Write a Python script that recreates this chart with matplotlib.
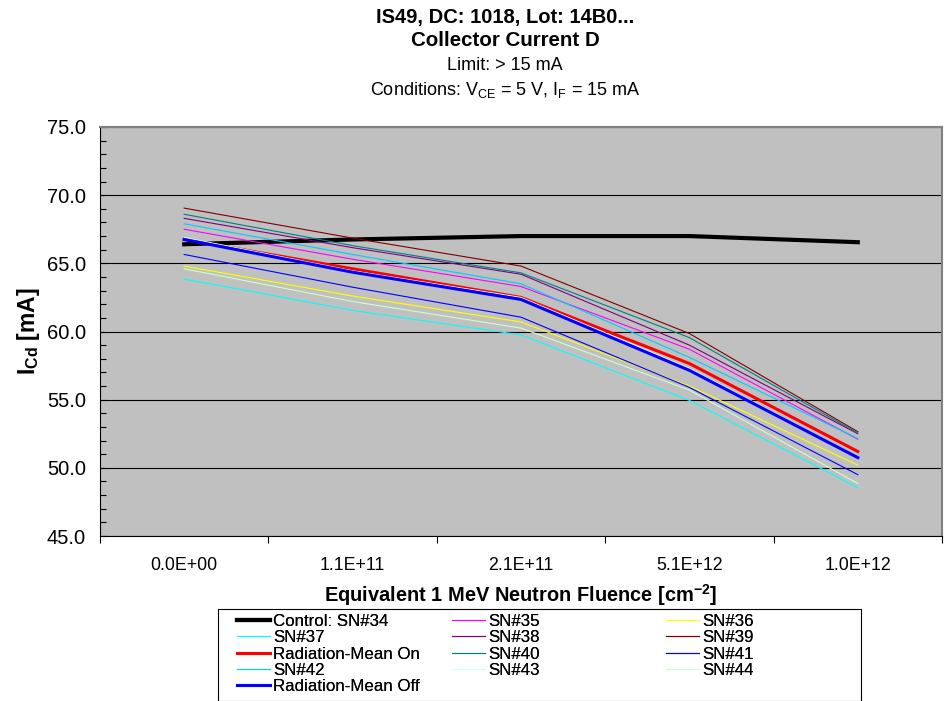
import matplotlib
matplotlib.use("Agg")
import matplotlib.pyplot as plt
from matplotlib.ticker import MultipleLocator, FormatStrFormatter, FixedLocator
from matplotlib.patches import Rectangle

plt.rcParams['font.family'] = ['Liberation Sans', 'DejaVu Sans']
plt.rcParams['mathtext.fontset'] = 'custom'
plt.rcParams['mathtext.rm'] = 'Liberation Sans'
plt.rcParams['mathtext.bf'] = 'Liberation Sans:bold'

# fluence categories
fluence = ['0.0E+00', '1.1E+11', '2.1E+11', '5.1E+12', '1.0E+12']

# collector current [mA] per device
control = [66.4, 66.75, 67.0, 67.0, 66.55]
sn35 = [67.5, 65.3, 63.3, 58.7, 52.1]
sn36 = [64.8, 62.6, 60.7, 56.0, 50.2]
sn37 = [63.85, 61.55, 59.75, 54.95, 48.55]
sn38 = [68.3, 66.15, 64.2, 59.0, 52.5]
sn39 = [69.05, 66.85, 64.8, 59.85, 52.65]
mean_on = [66.75, 64.6, 62.5, 57.65, 51.2]
sn40 = [68.6, 66.3, 64.3, 59.55, 52.55]
sn41 = [65.65, 63.25, 61.05, 55.9, 49.5]
sn42 = [67.9, 65.65, 63.5, 58.1, 52.15]
sn43 = [66.9, 64.45, 62.5, 57.3, 50.8]
sn44 = [64.6, 62.2, 60.25, 55.7, 48.85]
mean_off = [66.75, 64.35, 62.35, 57.15, 50.75]

W, H = 951, 701


def fx(px):
    return px / W


def fy(py):
    return 1 - py / H


def draw_chart():
    fig = plt.figure(figsize=(9.51, 7.01), dpi=100)
    ax = fig.add_axes([fx(100), fy(536), fx(942) - fx(100), fy(127) - fy(536)])
    ax.set_facecolor('#C0C0C0')

    series = [
        ('Control: SN#34', control, 'black', 3.0),
        ('SN#35', sn35, '#FF00FF', 0.8),
        ('SN#36', sn36, '#FFFF00', 0.8),
        ('SN#37', sn37, '#00FFFF', 0.8),
        ('SN#38', sn38, '#800080', 0.8),
        ('SN#39', sn39, '#800000', 0.8),
        ('Radiation-Mean On', mean_on, '#FF0000', 2.2),
        ('SN#40', sn40, '#008080', 0.8),
        ('SN#41', sn41, '#0000FF', 0.8),
        ('SN#42', sn42, '#00CCFF', 0.8),
        ('SN#43', sn43, '#CCFFFF', 0.8),
        ('SN#44', sn44, '#CCFFCC', 0.8),
        ('Radiation-Mean Off', mean_off, '#0000FF', 2.2),
    ]
    x = list(range(len(fluence)))
    handles = []
    for label, vals, color, lw in series:
        h, = ax.plot(x, vals, color=color, lw=lw, label=label)
        handles.append(h)

    ax.set_xlim(-0.5, len(fluence) - 0.5)
    ax.set_ylim(45, 75)
    ax.yaxis.set_major_locator(MultipleLocator(5))
    ax.yaxis.set_minor_locator(MultipleLocator(1))
    ax.yaxis.set_major_formatter(FormatStrFormatter('%.1f'))
    ax.grid(axis='y', which='major', color='black', lw=0.8)
    ax.tick_params(axis='y', which='both', direction='in', length=4, width=0.8,
                   labelsize=14.5, pad=10)

    # category boundaries get the ticks, centres get the labels
    ax.xaxis.set_major_locator(FixedLocator([i - 0.5 for i in range(len(fluence) + 1)]))
    ax.xaxis.set_major_formatter(plt.NullFormatter())
    ax.xaxis.set_minor_locator(FixedLocator(x))
    ax.set_xticklabels(fluence, minor=True)
    ax.tick_params(axis='x', which='major', direction='out', length=5, width=0.8)
    ax.tick_params(axis='x', which='minor', length=0, labelsize=12.8, pad=15)

    for s in ['left', 'bottom']:
        ax.spines[s].set_color('black')
    for s in ['top', 'right']:
        ax.spines[s].set_color('#808080')
        ax.spines[s].set_linewidth(1.5)

    # titles
    cx = fx(505)
    fig.text(cx, fy(17), 'IS49, DC: 1018, Lot: 14B0...', ha='center', va='center',
             fontsize=14.5, fontweight='bold')
    fig.text(cx, fy(41), 'Collector Current D', ha='center', va='center',
             fontsize=14.8, fontweight='bold')
    fig.text(cx, fy(66), 'Limit: > 15 mA', ha='center', va='center', fontsize=13)
    fig.text(cx, fy(90), r'Conditions: V$_{\mathrm{CE}}$ = 5 V, I$_{\mathrm{F}}$ = 15 mA',
             ha='center', va='center', fontsize=13)

    fig.text(fx(28), fy(331), r'I$_{\mathbf{Cd}}$ [mA]', rotation=90, ha='center',
             va='center', fontsize=16.5, fontweight='bold')
    fig.text(fx(521), fy(595), r'Equivalent 1 MeV Neutron Fluence [cm$^{\mathbf{-2}}$]',
             ha='center', va='center', fontsize=14.4, fontweight='bold')

    # legend box, three columns laid out like excel does it
    fig.patches.append(Rectangle((fx(218), 0), fx(861) - fx(218), fy(609),
                                 transform=fig.transFigure, facecolor='white',
                                 edgecolor='black', lw=0.8))
    cols = [[0, 3, 6, 9, 12], [1, 4, 7, 10], [2, 5, 8, 11]]
    col_x = [237, 452, 666]
    for idx, px in zip(cols, col_x):
        leg = fig.legend([handles[i] for i in idx], [series[i][0] for i in idx],
                         loc='upper left', bbox_to_anchor=(fx(px), fy(614)),
                         frameon=False, fontsize=12.2, borderpad=0, borderaxespad=0,
                         handlelength=1.95, handletextpad=0.2, labelspacing=0.08)
        fig.add_artist(leg)

    fig.savefig('out.png', dpi=100)
    plt.close(fig)


def go():
    draw_chart()


if __name__ == "__main__":
    go()
